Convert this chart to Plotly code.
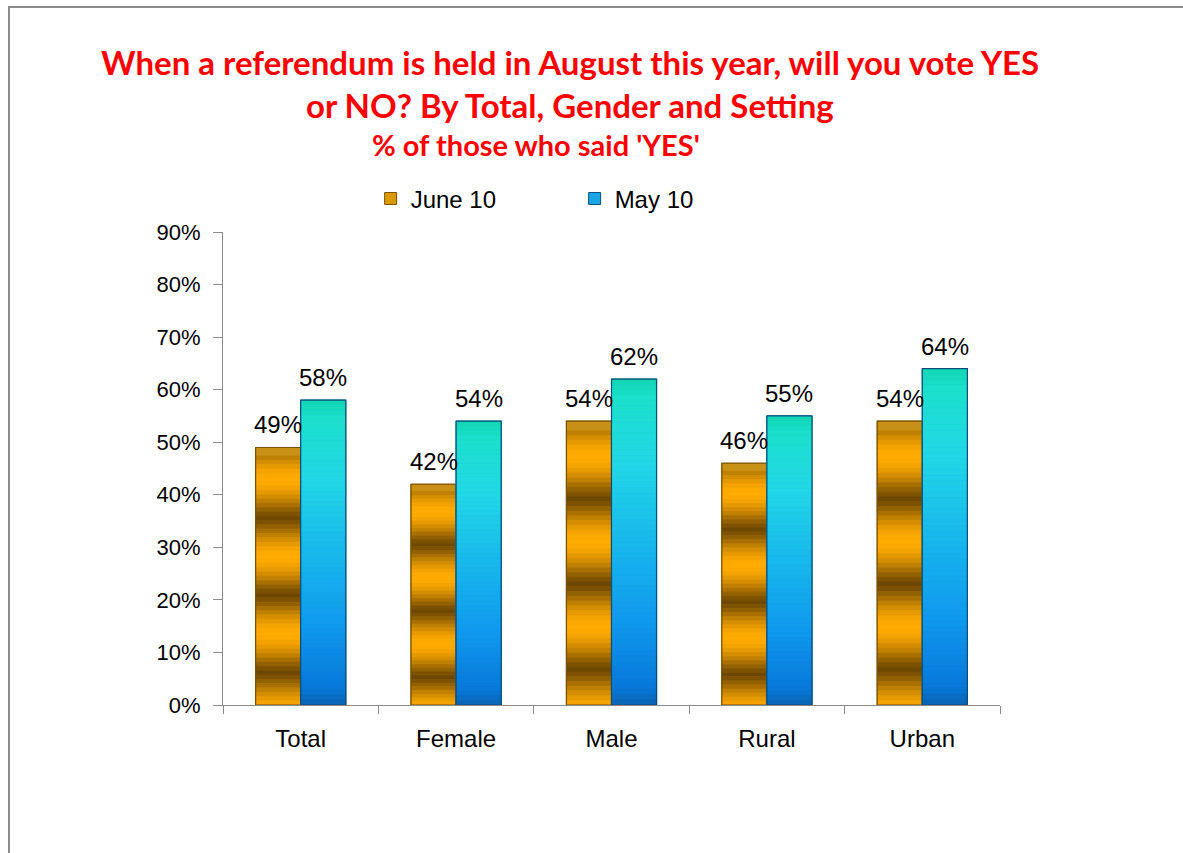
import numpy as np
import plotly.graph_objects as go

# Survey results: % of respondents who said YES
categories = ["Total", "Female", "Male", "Rural", "Urban"]
june_10 = [49, 42, 54, 46, 54]
may_10 = [58, 54, 62, 55, 64]
series_names = ["June 10", "May 10"]
y_tick_values = [0, 10, 20, 30, 40, 50, 60, 70, 80, 90]

FIG_W, FIG_H = 1183, 853
MARGIN = dict(l=223, r=183, t=232, b=148)
N_SLICES = 60
BAR_W = 0.29  # width of one bar, in category units
FONT = "Liberation Sans, Arial, sans-serif"

plot_w = FIG_W - MARGIN["l"] - MARGIN["r"]
cat_px = plot_w / len(categories)


def hex_rgb(h):
    h = h.lstrip("#")
    return np.array([int(h[i:i + 2], 16) for i in (0, 2, 4)], dtype=float)


def rgb_str(c):
    c = np.clip(c, 0, 255).round().astype(int)
    return f"rgb({c[0]},{c[1]},{c[2]})"


def gold_shade(f):
    """Banded metallic gold; f = 0 at bar top, 1 at bottom."""
    light, dark = hex_rgb("#FFAB02"), hex_rgb("#6E4800")
    t = (1 + np.cos(2 * np.pi * (f - 0.125) / 0.30)) / 2
    c = dark + (light - dark) * t ** 0.65
    if f < 0.035:
        c = hex_rgb("#C99018")
    return rgb_str(c)


MAY_STOPS = [(0.0, "#12D6B4"), (0.06, "#1BE0CC"), (0.25, "#22D8E6"),
             (0.5, "#18B8EC"), (0.75, "#0F98EE"), (0.95, "#0878D8"), (1.0, "#0A62B0")]


def blue_shade(f):
    """Teal-to-blue vertical gradient; f = 0 at bar top, 1 at bottom."""
    for (f0, c0), (f1, c1) in zip(MAY_STOPS[:-1], MAY_STOPS[1:]):
        if f0 <= f <= f1:
            t = (f - f0) / (f1 - f0)
            return rgb_str(hex_rgb(c0) + (hex_rgb(c1) - hex_rgb(c0)) * t)
    return MAY_STOPS[-1][1]


series = [
    (series_names[0], june_10, -BAR_W, "#D99A00", "#7A5200", gold_shade),
    (series_names[1], may_10, 0.0, "#1AA6E4", "#0B4F7A", blue_shade),
]

fig = go.Figure()
for name, vals, offset, base_col, edge_col, shade in series:
    frac = np.array(vals, dtype=float) / 100
    # solid layer (also provides the legend swatch)
    fig.add_trace(go.Bar(
        x=categories, y=frac, name=name, width=BAR_W, offset=offset,
        marker=dict(color=base_col, line=dict(color=edge_col, width=1)),
        hoverinfo="skip", legendgroup=name,
    ))
    # gradient slices, from the top of each bar downwards
    for i in range(N_SLICES):
        col = shade((i + 0.5) / N_SLICES)
        fig.add_trace(go.Bar(
            x=categories, y=frac / N_SLICES, base=frac * (1 - (i + 1) / N_SLICES),
            width=BAR_W, offset=offset,
            marker=dict(color=col, line=dict(color=col, width=0.6)),
            showlegend=False, hoverinfo="skip", legendgroup=name,
        ))
    # outline
    fig.add_trace(go.Bar(
        x=categories, y=frac, width=BAR_W, offset=offset,
        marker=dict(color="rgba(0,0,0,0)", line=dict(color=edge_col, width=1.2)),
        cliponaxis=False, showlegend=False, legendgroup=name,
        hovertemplate="%{x}: %{y:.0%}<extra>" + name + "</extra>",
    ))
    # value labels above each bar
    shift = (offset + BAR_W / 2) * cat_px
    for cat, v, fv in zip(categories, vals, frac):
        fig.add_annotation(
            x=cat, y=fv, xref="x", yref="y", text=f"{v}%", showarrow=False,
            xanchor="center", yanchor="bottom", xshift=shift, yshift=7,
            font=dict(family=FONT, size=24, color="#000000"),
        )

title_lines = [
    ("When a referendum is held in August this year, will you vote YES", 0.4466, 1.3594, 33),
    ("or NO? By Total, Gender and Setting", 0.4466, 1.2685, 33),
    ("% of those who said 'YES'", 0.4028, 1.184, 29),
]
for txt, xp, yp, size in title_lines:
    fig.add_annotation(
        text=f"<b>{txt}</b>", x=xp, y=yp, xref="paper", yref="paper",
        xanchor="center", yanchor="middle", showarrow=False,
        font=dict(family="Lato, sans-serif", size=size, color="#FF0000"),
    )

# outer frame of the chart area
fig.add_shape(type="rect", xref="paper", yref="paper",
              x0=-0.2754, x1=1.3, y0=-0.4, y1=1.4757,
              line=dict(color="#8C8C8C", width=2), fillcolor="rgba(0,0,0,0)", layer="below")

fig.update_layout(
    width=FIG_W, height=FIG_H,
    margin=MARGIN,
    paper_bgcolor="white", plot_bgcolor="white",
    barmode="overlay",
    showlegend=True,
    legend=dict(orientation="h", x=0.19, y=1.07, xanchor="left", yanchor="middle",
                font=dict(family=FONT, size=24, color="#000000"),
                entrywidth=159, entrywidthmode="pixels", bgcolor="rgba(0,0,0,0)"),
    font=dict(family=FONT, color="#000000"),
)
fig.update_xaxes(
    type="category", tickson="boundaries", ticks="outside", ticklen=8,
    tickcolor="#8C8C8C", showline=True, linecolor="#8C8C8C", linewidth=1,
    showgrid=False, tickfont=dict(family=FONT, size=24, color="#000000"),
    ticklabelstandoff=12,
)
fig.update_yaxes(
    range=[0, 0.9], tickvals=[v / 100 for v in y_tick_values],
    ticktext=[f"{v}%" for v in y_tick_values],
    ticks="outside", ticklen=9, tickcolor="#8C8C8C",
    showline=True, linecolor="#8C8C8C", linewidth=1, showgrid=False,
    zeroline=False, tickfont=dict(family=FONT, size=22, color="#000000"),
    ticklabelstandoff=8,
)

fig.write_html("out.html")
